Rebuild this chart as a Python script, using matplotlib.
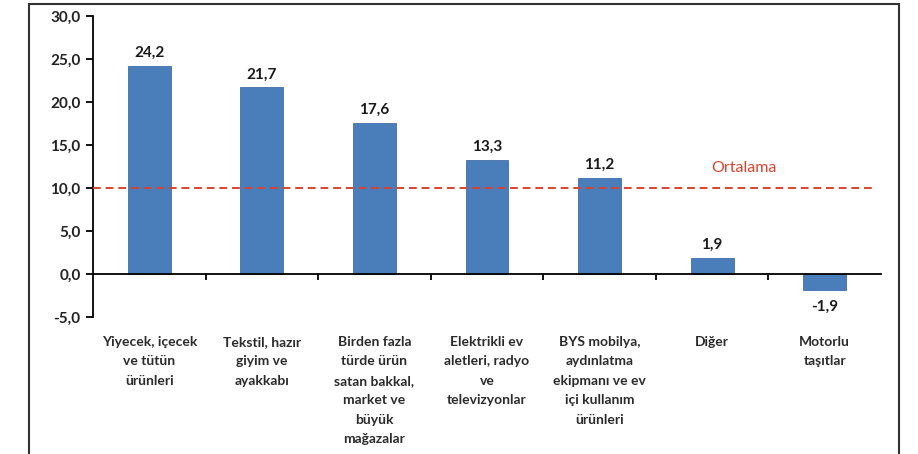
import matplotlib
matplotlib.use("Agg")
import matplotlib.pyplot as plt
from matplotlib.lines import Line2D

# Veriler
kategoriler = [
    "Yiyecek, içecek\nve tütün\nürünleri",
    "Tekstil, hazır\ngiyim ve\nayakkabı",
    "Birden fazla\ntürde ürün\nsatan bakkal,\nmarket ve\nbüyük\nmağazalar",
    "Elektrikli ev\naletleri, radyo\nve\ntelevizyonlar",
    "BYS mobilya,\naydınlatma\nekipmanı ve ev\niçi kullanım\nürünleri",
    "Diğer",
    "Motorlu\ntaşıtlar",
]
degerler = [24.2, 21.7, 17.6, 13.3, 11.2, 1.9, -1.9]
ortalama = 10.0
y_ticks = [-5, 0, 5, 10, 15, 20, 25, 30]

plt.rcParams["font.family"] = ["Lato", "DejaVu Sans"]
plt.rcParams["font.weight"] = "bold"

fig = plt.figure(figsize=(9.18, 4.54), dpi=100)
ax = fig.add_axes([93 / 918, 1 - 317 / 454, (881 - 93) / 918, (317 - 16) / 454])

x = list(range(len(degerler)))
ax.bar(x, degerler, width=0.38, color="#4a7ebb", edgecolor="#3f6fa8", linewidth=0.6, zorder=2)

# Ortalama çizgisi
ax.plot([-0.5, 6.45], [ortalama, ortalama], color="#d9432f", linestyle=(0, (4, 2.5)),
        linewidth=1.4, zorder=3)
ax.text(5.28, 12.3, "Ortalama", color="#d9432f", fontsize=11.5, ha="center", va="center",
        fontweight="normal")

# Değer etiketleri
for xi, v in zip(x, degerler):
    etiket = f"{v:.1f}".replace(".", ",")
    if v >= 0:
        ax.text(xi, v + 0.7, etiket, ha="center", va="bottom", fontsize=11, color="#1a1a1a")
    else:
        ax.text(xi, v - 1.1, etiket, ha="center", va="top", fontsize=11, color="#1a1a1a")

ax.set_xlim(-0.5, 6.5)
ax.set_ylim(-5, 30)
ax.set_yticks(y_ticks)
ax.set_yticklabels([f"{t:.1f}".replace(".", ",") for t in y_ticks], fontsize=11, color="#222222")

ax.spines["top"].set_visible(False)
ax.spines["right"].set_visible(False)
ax.spines["bottom"].set_position(("data", 0))
ax.spines["left"].set_linewidth(1.3)
ax.spines["bottom"].set_linewidth(1.3)
ax.tick_params(axis="y", direction="out", length=5, width=1.3, pad=4)

ax.set_xticks([i + 0.5 for i in range(6)], minor=True)
ax.tick_params(axis="x", which="minor", direction="out", length=4, width=1.3)
ax.set_xticks(x)
ax.set_xticklabels([])
ax.tick_params(axis="x", which="major", length=0)

# Kategori etiketleri eksenin altında
for xi, k in zip(x, kategoriler):
    ax.text(xi, -7.2, k, ha="center", va="top", fontsize=10, color="#2b2b2b",
            linespacing=1.75, clip_on=False)

# Çerçeve
fig.add_artist(Line2D([29 / 918, 29 / 918], [0, 1 - 4 / 454], color="#333333", lw=1.5))
fig.add_artist(Line2D([29 / 918, 899 / 918], [1 - 4 / 454, 1 - 4 / 454], color="#333333", lw=1.5))
fig.add_artist(Line2D([899 / 918, 899 / 918], [0, 1 - 4 / 454], color="#333333", lw=1.5))

fig.savefig("out.png", dpi=100)
